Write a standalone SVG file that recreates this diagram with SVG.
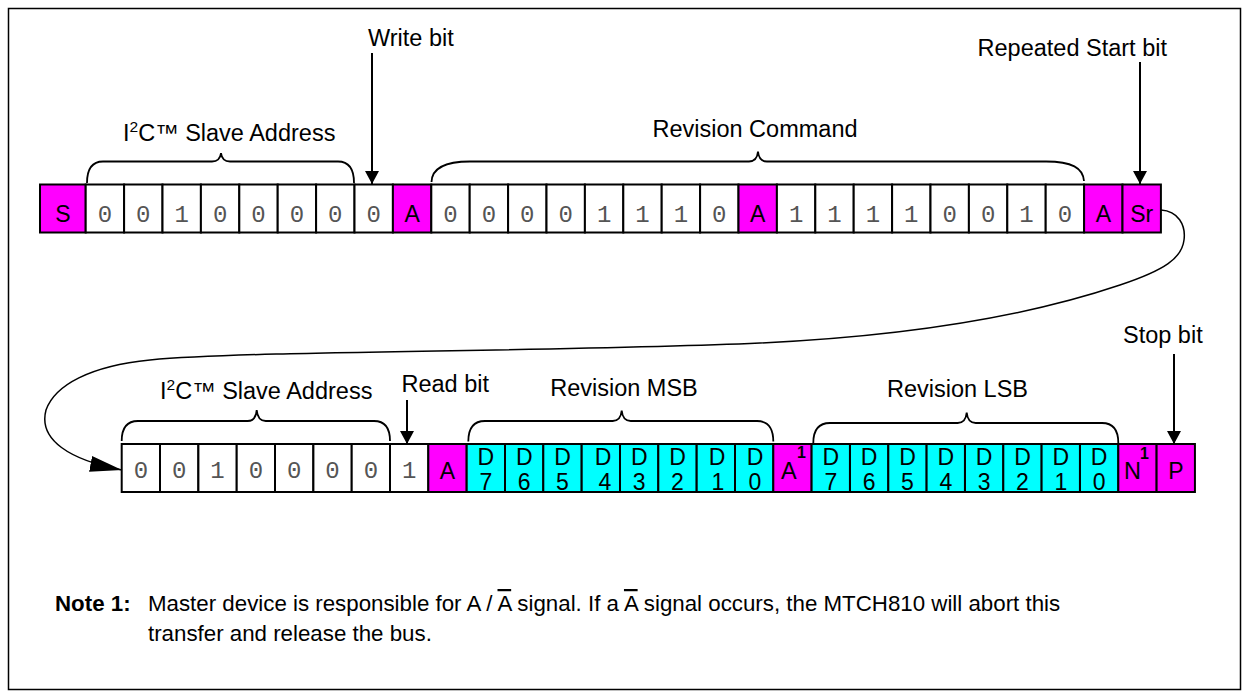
<svg xmlns="http://www.w3.org/2000/svg" width="1249" height="700" viewBox="0 0 1249 700">
<style>
.w{fill:#fff;stroke:#000;stroke-width:2}
.m{fill:#f0f;stroke:#000;stroke-width:2}
.c{fill:#0ff;stroke:#000;stroke-width:2}
.bit{font-family:"Liberation Mono","Courier New",monospace;font-size:24px;fill:#555;text-anchor:middle}
.sym{font-family:"Liberation Sans",Arial,sans-serif;font-size:23px;fill:#000;text-anchor:middle}
.lbl{font-family:"Liberation Sans",Arial,sans-serif;font-size:23.5px;fill:#000}
.sup{font-size:15.5px}
.supb{font-family:"Liberation Sans",Arial,sans-serif;font-size:16px;font-weight:bold;fill:#000}
.note{font-family:"Liberation Sans",Arial,sans-serif;font-size:22.3px;fill:#000}
.brace{fill:none;stroke:#000;stroke-width:1.8}
.arr{fill:none;stroke:#000;stroke-width:2}
.curve{fill:none;stroke:#000;stroke-width:1.5}
</style>
<defs>
<marker id="ah" markerUnits="userSpaceOnUse" viewBox="0 0 13 14" markerWidth="13" markerHeight="14" refX="13" refY="7" orient="auto"><path d="M0,0 L13,7 L0,14 z" fill="#000"/></marker>
<marker id="ahb" markerUnits="userSpaceOnUse" viewBox="0 0 32 16" markerWidth="32" markerHeight="16" refX="32" refY="8" orient="auto"><path d="M0,0 L32,8 L0,16 z" fill="#000"/></marker>
</defs>
<rect x="8.5" y="8.5" width="1232" height="681" fill="#fff" stroke="#000" stroke-width="1.5"/>

<g id="top-row">
<g id="t-S"><rect class="m" x="40" y="184.5" width="45.7" height="48"/><text class="sym" x="62.9" y="222">S</text></g>
<g id="t0"><rect class="w" x="85.7" y="184.5" width="38.4" height="48"/><text class="bit" x="104.9" y="222">0</text></g>
<g id="t1"><rect class="w" x="124.1" y="184.5" width="38.4" height="48"/><text class="bit" x="143.3" y="222">0</text></g>
<g id="t2"><rect class="w" x="162.5" y="184.5" width="38.4" height="48"/><text class="bit" x="181.7" y="222">1</text></g>
<g id="t3"><rect class="w" x="200.9" y="184.5" width="38.4" height="48"/><text class="bit" x="220.1" y="222">0</text></g>
<g id="t4"><rect class="w" x="239.3" y="184.5" width="38.4" height="48"/><text class="bit" x="258.5" y="222">0</text></g>
<g id="t5"><rect class="w" x="277.7" y="184.5" width="38.4" height="48"/><text class="bit" x="296.9" y="222">0</text></g>
<g id="t6"><rect class="w" x="316.1" y="184.5" width="38.4" height="48"/><text class="bit" x="335.3" y="222">0</text></g>
<g id="t7"><rect class="w" x="354.5" y="184.5" width="38.4" height="48"/><text class="bit" x="373.7" y="222">0</text></g>
<g id="t8"><rect class="m" x="392.9" y="184.5" width="38.4" height="48"/><text class="sym" x="412.1" y="222">A</text></g>
<g id="t9"><rect class="w" x="431.3" y="184.5" width="38.4" height="48"/><text class="bit" x="450.5" y="222">0</text></g>
<g id="t10"><rect class="w" x="469.7" y="184.5" width="38.4" height="48"/><text class="bit" x="488.9" y="222">0</text></g>
<g id="t11"><rect class="w" x="508.1" y="184.5" width="38.4" height="48"/><text class="bit" x="527.3" y="222">0</text></g>
<g id="t12"><rect class="w" x="546.5" y="184.5" width="38.4" height="48"/><text class="bit" x="565.7" y="222">0</text></g>
<g id="t13"><rect class="w" x="584.9" y="184.5" width="38.4" height="48"/><text class="bit" x="604.1" y="222">1</text></g>
<g id="t14"><rect class="w" x="623.3" y="184.5" width="38.4" height="48"/><text class="bit" x="642.5" y="222">1</text></g>
<g id="t15"><rect class="w" x="661.7" y="184.5" width="38.4" height="48"/><text class="bit" x="680.9" y="222">1</text></g>
<g id="t16"><rect class="w" x="700.1" y="184.5" width="38.4" height="48"/><text class="bit" x="719.3" y="222">0</text></g>
<g id="t17"><rect class="m" x="738.5" y="184.5" width="38.4" height="48"/><text class="sym" x="757.7" y="222">A</text></g>
<g id="t18"><rect class="w" x="776.9" y="184.5" width="38.4" height="48"/><text class="bit" x="796.1" y="222">1</text></g>
<g id="t19"><rect class="w" x="815.3" y="184.5" width="38.4" height="48"/><text class="bit" x="834.5" y="222">1</text></g>
<g id="t20"><rect class="w" x="853.7" y="184.5" width="38.4" height="48"/><text class="bit" x="872.9" y="222">1</text></g>
<g id="t21"><rect class="w" x="892.1" y="184.5" width="38.4" height="48"/><text class="bit" x="911.3" y="222">1</text></g>
<g id="t22"><rect class="w" x="930.5" y="184.5" width="38.4" height="48"/><text class="bit" x="949.7" y="222">0</text></g>
<g id="t23"><rect class="w" x="968.9" y="184.5" width="38.4" height="48"/><text class="bit" x="988.1" y="222">0</text></g>
<g id="t24"><rect class="w" x="1007.3" y="184.5" width="38.4" height="48"/><text class="bit" x="1026.5" y="222">1</text></g>
<g id="t25"><rect class="w" x="1045.7" y="184.5" width="38.4" height="48"/><text class="bit" x="1064.9" y="222">0</text></g>
<g id="t26"><rect class="m" x="1084.1" y="184.5" width="38.4" height="48"/><text class="sym" x="1103.3" y="222">A</text></g>
<g id="t27"><rect class="m" x="1122.5" y="184.5" width="38.4" height="48"/><text class="sym" x="1141.7" y="222">Sr</text></g>
</g>

<g id="bottom-row">
<g id="b0"><rect class="w" x="121.7" y="444" width="38.33" height="48"/><text class="bit" x="140.9" y="478">0</text></g>
<g id="b1"><rect class="w" x="160" y="444" width="38.33" height="48"/><text class="bit" x="179.2" y="478">0</text></g>
<g id="b2"><rect class="w" x="198.4" y="444" width="38.33" height="48"/><text class="bit" x="217.5" y="478">1</text></g>
<g id="b3"><rect class="w" x="236.7" y="444" width="38.33" height="48"/><text class="bit" x="255.9" y="478">0</text></g>
<g id="b4"><rect class="w" x="275" y="444" width="38.33" height="48"/><text class="bit" x="294.2" y="478">0</text></g>
<g id="b5"><rect class="w" x="313.4" y="444" width="38.33" height="48"/><text class="bit" x="332.5" y="478">0</text></g>
<g id="b6"><rect class="w" x="351.7" y="444" width="38.33" height="48"/><text class="bit" x="370.9" y="478">0</text></g>
<g id="b7"><rect class="w" x="390" y="444" width="38.33" height="48"/><text class="bit" x="409.2" y="478">1</text></g>
<g id="b8"><rect class="m" x="428.3" y="444" width="38.33" height="48"/><text class="sym" x="447.5" y="479">A</text></g>
<g id="b9"><rect class="c" x="466.7" y="444" width="38.33" height="48"/><text class="sym" x="485.8" y="465">D</text><text class="sym" x="485.8" y="490">7</text></g>
<g id="b10"><rect class="c" x="505" y="444" width="38.33" height="48"/><text class="sym" x="524.2" y="465">D</text><text class="sym" x="524.2" y="490">6</text></g>
<g id="b11"><rect class="c" x="543.3" y="444" width="38.33" height="48"/><text class="sym" x="562.5" y="465">D</text><text class="sym" x="562.5" y="490">5</text></g>
<g id="b12"><rect class="c" x="581.7" y="444" width="38.33" height="48"/><text class="sym" x="603" y="465">D</text><text class="sym" x="605" y="490">4</text></g>
<g id="b13"><rect class="c" x="620" y="444" width="38.33" height="48"/><text class="sym" x="639.2" y="465">D</text><text class="sym" x="639.2" y="490">3</text></g>
<g id="b14"><rect class="c" x="658.3" y="444" width="38.33" height="48"/><text class="sym" x="677.5" y="465">D</text><text class="sym" x="677.5" y="490">2</text></g>
<g id="b15"><rect class="c" x="696.7" y="444" width="38.33" height="48"/><text class="sym" x="717" y="465">D</text><text class="sym" x="718" y="490">1</text></g>
<g id="b16"><rect class="c" x="735" y="444" width="38.33" height="48"/><text class="sym" x="755" y="465">D</text><text class="sym" x="755" y="490">0</text></g>
<g id="b17"><rect class="m" x="773.3" y="444" width="38.33" height="48"/><text class="lbl" x="781" y="479">A</text><text class="supb" x="797" y="458">1</text></g>
<g id="b18"><rect class="c" x="811.6" y="444" width="38.33" height="48"/><text class="sym" x="830.8" y="465">D</text><text class="sym" x="830.8" y="490">7</text></g>
<g id="b19"><rect class="c" x="850" y="444" width="38.33" height="48"/><text class="sym" x="869.1" y="465">D</text><text class="sym" x="869.1" y="490">6</text></g>
<g id="b20"><rect class="c" x="888.3" y="444" width="38.33" height="48"/><text class="sym" x="907.5" y="465">D</text><text class="sym" x="907.5" y="490">5</text></g>
<g id="b21"><rect class="c" x="926.6" y="444" width="38.33" height="48"/><text class="sym" x="945.8" y="465">D</text><text class="sym" x="945.8" y="490">4</text></g>
<g id="b22"><rect class="c" x="965" y="444" width="38.33" height="48"/><text class="sym" x="984.1" y="465">D</text><text class="sym" x="984.1" y="490">3</text></g>
<g id="b23"><rect class="c" x="1003.3" y="444" width="38.33" height="48"/><text class="sym" x="1022.5" y="465">D</text><text class="sym" x="1022.5" y="490">2</text></g>
<g id="b24"><rect class="c" x="1041.6" y="444" width="38.33" height="48"/><text class="sym" x="1060.8" y="465">D</text><text class="sym" x="1060.8" y="490">1</text></g>
<g id="b25"><rect class="c" x="1080" y="444" width="38.33" height="48"/><text class="sym" x="1099.1" y="465">D</text><text class="sym" x="1099.1" y="490">0</text></g>
<g id="b26"><rect class="m" x="1118.3" y="444" width="38.33" height="48"/><text class="lbl" x="1124" y="479">N</text><text class="supb" x="1140" y="459">1</text></g>
<g id="b27"><rect class="m" x="1156.6" y="444" width="38.33" height="48"/><text class="sym" x="1175.8" y="479">P</text></g>
</g>

<g id="braces">
<path class="brace" d="M87,183 C87,170 92,161.5 103,161.5 L212,161.5 Q220,161.5 221,153 Q222,161.5 230,161.5 L338,161.5 C349,161.5 354,170 354,183"/>
<path class="brace" d="M431.5,182 C432,168 445,161.5 470,161.5 L749,161.5 Q757,161.5 758,151.5 Q759,161.5 767,161.5 L1046,161.5 C1072,161.5 1083,168 1084,181"/>
<path class="brace" d="M121.7,441 C121.7,428 127,421 138,421 L247.7,421 Q255.7,421 256.7,410 Q257.7,421 265.7,421 L374,421 C385,421 390,428 390,441"/>
<path class="brace" d="M468.3,441.5 C468.3,428 474,421 485,421 L612.7,421 Q620.7,421 621.7,410.5 Q622.7,421 630.7,421 L757,421 C768,421 773.3,428 773.3,441.5"/>
<path class="brace" d="M813.3,443 C813.3,430 819,423 830,423 L957.7,423 Q965.7,423 966.7,412.5 Q967.7,423 975.7,423 L1102,423 C1113,423 1118.3,430 1118.3,443"/>
</g>

<g id="labels">
<text id="lbl-addr1" class="lbl" x="123" y="141">I<tspan class="sup" dy="-9">2</tspan><tspan dy="9">C™ Slave Address</tspan></text>
<text id="lbl-write" class="lbl" x="368" y="46">Write bit</text>
<text id="lbl-revcmd" class="lbl" x="755" y="137" text-anchor="middle">Revision Command</text>
<text id="lbl-rstart" class="lbl" x="1167" y="56" text-anchor="end">Repeated Start bit</text>
<text id="lbl-addr2" class="lbl" x="160" y="399">I<tspan class="sup" dy="-9">2</tspan><tspan dy="9">C™ Slave Address</tspan></text>
<text id="lbl-read" class="lbl" x="401.5" y="392">Read bit</text>
<text id="lbl-msb" class="lbl" x="624" y="396" text-anchor="middle">Revision MSB</text>
<text id="lbl-lsb" class="lbl" x="957.5" y="397" text-anchor="middle">Revision LSB</text>
<text id="lbl-stop" class="lbl" x="1123" y="343">Stop bit</text>
</g>

<g id="connectors">
<path class="arr" d="M372,53 L372,184" marker-end="url(#ah)"/>
<path class="arr" d="M1140,62 L1140,184" marker-end="url(#ah)"/>
<path class="arr" d="M407,400 L407,444" marker-end="url(#ah)"/>
<path class="arr" d="M1174,354 L1174,444" marker-end="url(#ah)"/>
<path class="curve" d="M1161,210 C1178,211 1186,225 1184,240 C1182,258 1165,270 1120,285 C1040,312 930,335 760,343 C560,352 260,350 150,360 C90,366 55,385 46,410 C38,440 70,460 122,470" marker-end="url(#ahb)"/>
</g>

<g id="note">
<text class="note" x="55" y="611"><tspan font-weight="bold">Note 1:</tspan></text>
<text class="note" x="148" y="611">Master device is responsible for A / <tspan style="text-decoration:overline">A</tspan> signal. If a <tspan style="text-decoration:overline">A</tspan> signal occurs, the MTCH810 will abort this</text>
<text class="note" x="148" y="641">transfer and release the bus.</text>
</g>
</svg>
